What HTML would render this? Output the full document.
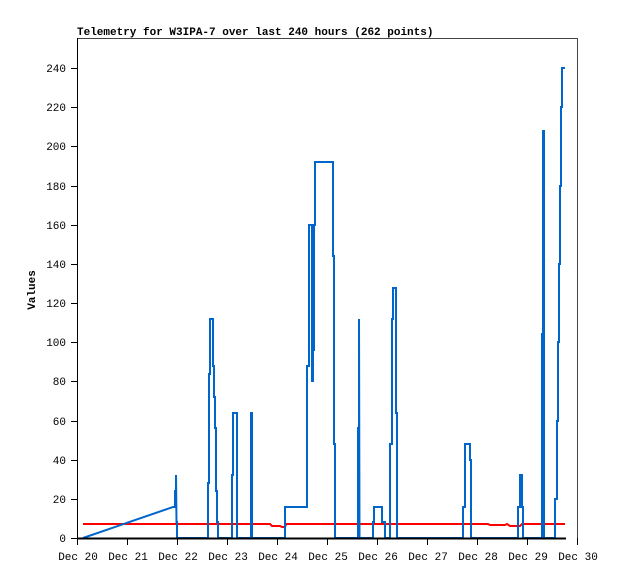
<!DOCTYPE html>
<html><head><style>
body{margin:0;background:#fff;}
svg text{font-family:"Liberation Mono","DejaVu Sans Mono",monospace;font-size:11px;fill:#000;}
</style></head><body>
<svg width="618" height="579" xmlns="http://www.w3.org/2000/svg">
<rect width="618" height="579" fill="#fff"/>
<text x="77" y="35" style="font-weight:bold">Telemetry for W3IPA-7 over last 240 hours (262 points)</text>
<path d="M77.5 38.5 H577.5 V538" fill="none" stroke="#444" stroke-width="1"/>
<line x1="77.5" y1="38" x2="77.5" y2="543" stroke="#000" stroke-width="1"/>
<g stroke="#000" stroke-width="1">
<line x1="71" y1="538.5" x2="77" y2="538.5"/><line x1="71" y1="499.5" x2="77" y2="499.5"/><line x1="71" y1="460.5" x2="77" y2="460.5"/><line x1="71" y1="421.5" x2="77" y2="421.5"/><line x1="71" y1="381.5" x2="77" y2="381.5"/><line x1="71" y1="342.5" x2="77" y2="342.5"/><line x1="71" y1="303.5" x2="77" y2="303.5"/><line x1="71" y1="264.5" x2="77" y2="264.5"/><line x1="71" y1="225.5" x2="77" y2="225.5"/><line x1="71" y1="186.5" x2="77" y2="186.5"/><line x1="71" y1="146.5" x2="77" y2="146.5"/><line x1="71" y1="107.5" x2="77" y2="107.5"/><line x1="71" y1="68.5" x2="77" y2="68.5"/>
</g>
<g text-anchor="end">
<text x="66" y="542">0</text><text x="66" y="503">20</text><text x="66" y="464">40</text><text x="66" y="425">60</text><text x="66" y="385">80</text><text x="66" y="346">100</text><text x="66" y="307">120</text><text x="66" y="268">140</text><text x="66" y="229">160</text><text x="66" y="190">180</text><text x="66" y="150">200</text><text x="66" y="111">220</text><text x="66" y="72">240</text>
</g>
<text transform="translate(35,290) rotate(-90)" text-anchor="middle" style="font-weight:bold">Values</text>
<g stroke="#000" stroke-width="1">
<line x1="77.5" y1="538" x2="77.5" y2="545"/><line x1="127.5" y1="538" x2="127.5" y2="545"/><line x1="177.5" y1="538" x2="177.5" y2="545"/><line x1="227.5" y1="538" x2="227.5" y2="545"/><line x1="277.5" y1="538" x2="277.5" y2="545"/><line x1="327.5" y1="538" x2="327.5" y2="545"/><line x1="377.5" y1="538" x2="377.5" y2="545"/><line x1="427.5" y1="538" x2="427.5" y2="545"/><line x1="477.5" y1="538" x2="477.5" y2="545"/><line x1="527.5" y1="538" x2="527.5" y2="545"/><line x1="577.5" y1="538" x2="577.5" y2="545"/>
</g>
<g text-anchor="middle">
<text x="78" y="560">Dec 20</text><text x="128" y="560">Dec 21</text><text x="178" y="560">Dec 22</text><text x="228" y="560">Dec 23</text><text x="278" y="560">Dec 24</text><text x="328" y="560">Dec 25</text><text x="378" y="560">Dec 26</text><text x="428" y="560">Dec 27</text><text x="478" y="560">Dec 28</text><text x="528" y="560">Dec 29</text><text x="578" y="560">Dec 30</text>
</g>
<polyline fill="none" stroke="#f00" stroke-width="2" points="83,524 270,524 272,526 280,526 282,527 285,527 286,524 488,524 490,525 505,525 507,524 510,526 520,526 522,524 565,524"/>
<polyline fill="none" stroke="#0066cc" stroke-width="2" points="83,538 173,507 175,507 175,491 176,491 176,475 176.5,522 177,522 177,538 208,538 208,483 209,483 209,374 210,374 210,319 213,319 213,366 214,366 214,397 215,397 215,428 216,428 216,491 217,491 217,522 218,522 218,538 232,538 232,475 233,475 233,413 237,413 237,538 251,538 251,413 252,413 252,538 285,538 285,507 307,507 307,366 309,366 309,225 312,225 312,381 313,381 313,350 314,350 314,225 315,225 315,162 333,162 333,256 334,256 334,444 335,444 335,538 358,538 358,428 359,428 359,319 359.5,538 373,538 373,522 374,522 374,507 382,507 382,522 385,522 385,538 390,538 390,444 392,444 392,319 393,319 393,288 396,288 396,413 397,413 397,538 463,538 463,507 465,507 465,444 466,444 466,444 470,444 470,460 471,460 471,538 518,538 518,507 520,507 520,475 522,475 522,507 523,507 523,538 542,538 542,334 543,334 543,131 544,131 544,538 555,538 555,499 557,499 557,421 558,421 558,342 559,342 559,264 560,264 560,186 561,186 561,107 562,107 562,68 565,68"/>
<line x1="77" y1="538.5" x2="566" y2="538.5" stroke="#000" stroke-width="2"/>
</svg>
</body></html>
